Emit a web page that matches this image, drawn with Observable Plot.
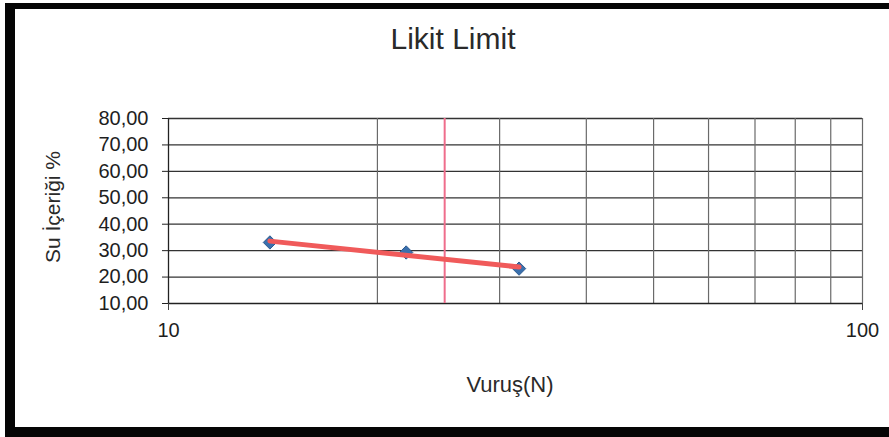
<!DOCTYPE html>
<html>
<head>
<meta charset="utf-8">
<script src="https://cdn.jsdelivr.net/npm/d3@7"></script>
<script src="https://cdn.jsdelivr.net/npm/@observablehq/plot@0.6"></script>
<style>
  html, body { margin: 0; padding: 0; background: #fff; }
  #sheet {
    position: relative; width: 889px; height: 437px; overflow: hidden;
    background: #fff; font-family: "Liberation Sans", Arial, sans-serif; color: #222;
  }
  #sheet svg { position: absolute; left: 0; top: 0; }
  .edge { position: absolute; background: #050505; }
  .txt { position: absolute; white-space: nowrap; color: #2a2a2a; }
</style>
</head>
<body>
<div id="sheet">
  <div class="edge" style="left:5px;top:3px;width:10px;height:434px"></div>
  <div class="edge" style="left:5px;top:3px;width:884px;height:6px"></div>
  <div class="edge" style="left:5px;top:427px;width:884px;height:10px"></div>
  <div class="txt" id="title" style="left:0;width:906px;top:22px;text-align:center;font-size:30px">Likit Limit</div>
  <div class="txt" id="ylab" style="left:53px;top:207px;font-size:21px;transform:translate(-50%,-50%) rotate(-90deg)">Su İçeriği %</div>
  <div class="txt" id="xlab" style="left:0;width:1020px;top:372px;text-align:center;font-size:22px">Vuruş(N)</div>
</div>
<script>
// Liquid limit test: blow count N vs. water content (%)
const blows = [14, 22, 32];
const water = [33.1, 29.3, 23.2];

// Logarithmic trend line end points
const trendN = [14, 32];
const trendW = [33.6, 23.8];

// Liquid limit is read at N = 25
const limitN = [25];

// Axis ticks
const yTicks = [10, 20, 30, 40, 50, 60, 70, 80];
const xTickLabels = [10, 100];
const xGrid = [20, 30, 40, 50, 60, 70, 80, 90, 100];

const points = blows.map((n, i) => ({n, w: water[i]}));
const trend = trendN.map((n, i) => ({n, w: trendW[i]}));
const comma = v => d3.format(".2f")(v).replace(".", ",");

const chart = Plot.plot({
  width: 889,
  height: 437,
  marginLeft: 168,
  marginRight: 27,
  marginTop: 118,
  marginBottom: 134,
  style: {background: "transparent", color: "#1e1e1e", fontFamily: "'Liberation Sans', Arial, sans-serif"},
  x: {type: "log", domain: [10, 100]},
  y: {domain: [10, 80]},
  marks: [
    Plot.ruleY(yTicks.slice(1), {stroke: "#333", strokeWidth: 1.3}),
    Plot.ruleX(xGrid, {y1: 10, y2: 80, stroke: "#6a6a6a", strokeWidth: 1.2}),
    Plot.ruleX([10], {y1: 10, y2: 80, stroke: "#222", strokeWidth: 1.3}),
    Plot.ruleY([10], {stroke: "#222", strokeWidth: 1.3}),
    Plot.axisY({ticks: yTicks, tickFormat: comma, tickSize: 6, tickPadding: 14, fontSize: 20, label: null, stroke: "#222"}),
    Plot.axisX({ticks: xTickLabels, tickFormat: d => String(d), tickSize: 7, tickPadding: 12, fontSize: 20, label: null, stroke: "#444"}),
    Plot.ruleX(limitN, {y1: 10, y2: 80, stroke: "#ef6d8c", strokeWidth: 2}),
    Plot.dot(points, {x: "n", y: "w", symbol: "diamond2", r: 6, fill: "#3a70ad", stroke: "#2c5a90", strokeWidth: 1}),
    Plot.line(trend, {x: "n", y: "w", stroke: "#f05a5a", strokeWidth: 5})
  ]
});
document.getElementById("sheet").appendChild(chart);
</script>
</body>
</html>
